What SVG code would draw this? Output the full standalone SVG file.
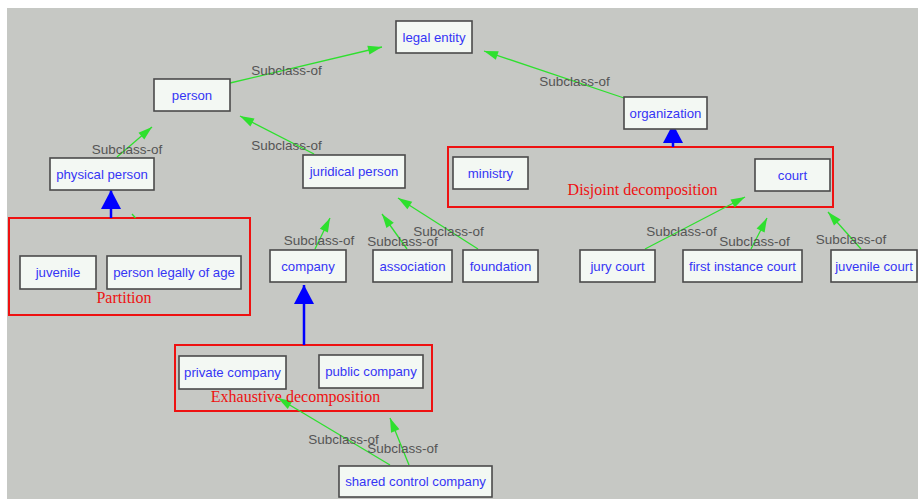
<svg xmlns="http://www.w3.org/2000/svg" width="918" height="499" viewBox="0 0 918 499">
<defs>
<marker id="ga" markerUnits="userSpaceOnUse" markerWidth="15" markerHeight="10" refX="14" refY="4.5" orient="auto" overflow="visible">
<path d="M0,0 L14,4.5 L0,9 z" fill="#2ee02e"/>
</marker>
<marker id="ba" markerUnits="userSpaceOnUse" markerWidth="20" markerHeight="22" refX="19" refY="10" orient="auto" overflow="visible">
<path d="M0,0 L19,10 L0,20 z" fill="#0000ff"/>
</marker>
</defs>
<style>
.n rect{fill:#f3f8f3;stroke:#4a4a4a;stroke-width:1.6}
.n text{font-family:"Liberation Sans",Arial,sans-serif;font-size:13.2px;fill:#3535f5;text-anchor:middle}
.e{stroke:#2ee02e;stroke-width:1.3;fill:none;marker-end:url(#ga)}
.b{stroke:#0000ff;stroke-width:2.5;fill:none;marker-end:url(#ba)}
.l{font-family:"Liberation Sans",Arial,sans-serif;font-size:13.5px;fill:#555555;text-anchor:middle}
.g rect{fill:none;stroke:#ee1111;stroke-width:2}
.g text{font-family:"Liberation Serif","Times New Roman",serif;font-size:16px;fill:#ee1111;text-anchor:middle}
</style>
<rect x="0" y="0" width="918" height="499" fill="#ffffff"/>
<rect x="7" y="8" width="911" height="491" fill="#c6c8c4"/>

<g id="groups">
<g id="partition" class="g"><rect x="9" y="218" width="241" height="97"/><text x="124" y="303">Partition</text></g>
<g id="disjoint" class="g"><rect x="448" y="147" width="385" height="60"/><text x="642.5" y="195">Disjoint decomposition</text></g>
<g id="exhaustive" class="g"><rect x="175" y="345" width="257" height="66"/></g>
</g>

<g id="connectors">
<line class="e" x1="230" y1="83" x2="382" y2="47"/>
<line class="e" x1="624" y1="98" x2="484" y2="51"/>
<line class="e" x1="117" y1="157" x2="152" y2="127"/>
<line class="e" x1="314" y1="154" x2="240" y2="116"/>
<line class="e" x1="315" y1="249" x2="330" y2="218"/>
<line class="e" x1="407" y1="249" x2="382" y2="214"/>
<line class="e" x1="478" y1="249" x2="398" y2="198"/>
<line class="e" x1="645" y1="249" x2="745" y2="197"/>
<line class="e" x1="751" y1="249" x2="767" y2="218"/>
<line class="e" x1="861" y1="249" x2="828" y2="212"/>
<line class="e" x1="390" y1="465" x2="278" y2="398"/>
<line class="e" x1="409" y1="465" x2="390" y2="418"/>
<line x1="132" y1="214" x2="135.5" y2="218" stroke="#2ee02e" stroke-width="1.3"/>
<line class="b" x1="111" y1="218" x2="111" y2="190"/>
<line class="b" x1="673" y1="147" x2="673" y2="124"/>
<line class="b" x1="304" y1="345" x2="304" y2="285"/>
<text class="l" x="286.5" y="75">Subclass-of</text>
<text class="l" x="574.5" y="86">Subclass-of</text>
<text class="l" x="127" y="154">Subclass-of</text>
<text class="l" x="286.5" y="150">Subclass-of</text>
<text class="l" x="319" y="245">Subclass-of</text>
<text class="l" x="402.5" y="246">Subclass-of</text>
<text class="l" x="448.5" y="236">Subclass-of</text>
<text class="l" x="681.5" y="236">Subclass-of</text>
<text class="l" x="754.5" y="246">Subclass-of</text>
<text class="l" x="851" y="244">Subclass-of</text>
<text class="l" x="343.5" y="444">Subclass-of</text>
<text class="l" x="402.5" y="453">Subclass-of</text>
</g>

<g id="legal-entity" class="n"><rect x="396" y="21" width="76" height="32"/><text x="434" y="41.5">legal entity</text></g>
<g id="person" class="n"><rect x="154" y="79" width="76" height="32"/><text x="192" y="99.5">person</text></g>
<g id="physical-person" class="n"><rect x="50" y="158" width="104" height="32"/><text x="102" y="178.5">physical person</text></g>
<g id="juridical-person" class="n"><rect x="303" y="155" width="102" height="33"/><text x="354" y="176">juridical person</text></g>
<g id="organization" class="n"><rect x="624" y="97" width="83" height="32"/><text x="665.5" y="117.5">organization</text></g>
<g id="ministry" class="n"><rect x="453" y="157" width="75" height="32"/><text x="490.5" y="177.5">ministry</text></g>
<g id="court" class="n"><rect x="755" y="159" width="75" height="32"/><text x="792.5" y="179.5">court</text></g>
<g id="juvenile" class="n"><rect x="20" y="256" width="76" height="33"/><text x="58" y="277">juvenile</text></g>
<g id="person-legally-of-age" class="n"><rect x="107" y="256" width="134" height="33"/><text x="174" y="277">person legally of age</text></g>
<g id="company" class="n"><rect x="270" y="250" width="76" height="32"/><text x="308" y="270.5">company</text></g>
<g id="association" class="n"><rect x="373" y="250" width="79" height="32"/><text x="412.5" y="270.5">association</text></g>
<g id="foundation" class="n"><rect x="463" y="250" width="75" height="32"/><text x="500.5" y="270.5">foundation</text></g>
<g id="jury-court" class="n"><rect x="580" y="250" width="75" height="32"/><text x="617.5" y="270.5">jury court</text></g>
<g id="first-instance-court" class="n"><rect x="683" y="250" width="119" height="32"/><text x="742.5" y="270.5">first instance court</text></g>
<g id="juvenile-court" class="n"><rect x="831" y="250" width="86" height="32"/><text x="874" y="270.5">juvenile court</text></g>
<g id="private-company" class="n"><rect x="179" y="356" width="107" height="33"/><text x="232.5" y="377">private company</text></g>
<g id="public-company" class="n"><rect x="319" y="355" width="104" height="33"/><text x="371" y="376">public company</text></g>
<g id="shared-control-company" class="n"><rect x="339" y="466" width="153" height="31"/><text x="415.5" y="486">shared control company</text></g>

<g id="exhaustive-label" class="g"><text x="295.5" y="402">Exhaustive decomposition</text></g>
</svg>
